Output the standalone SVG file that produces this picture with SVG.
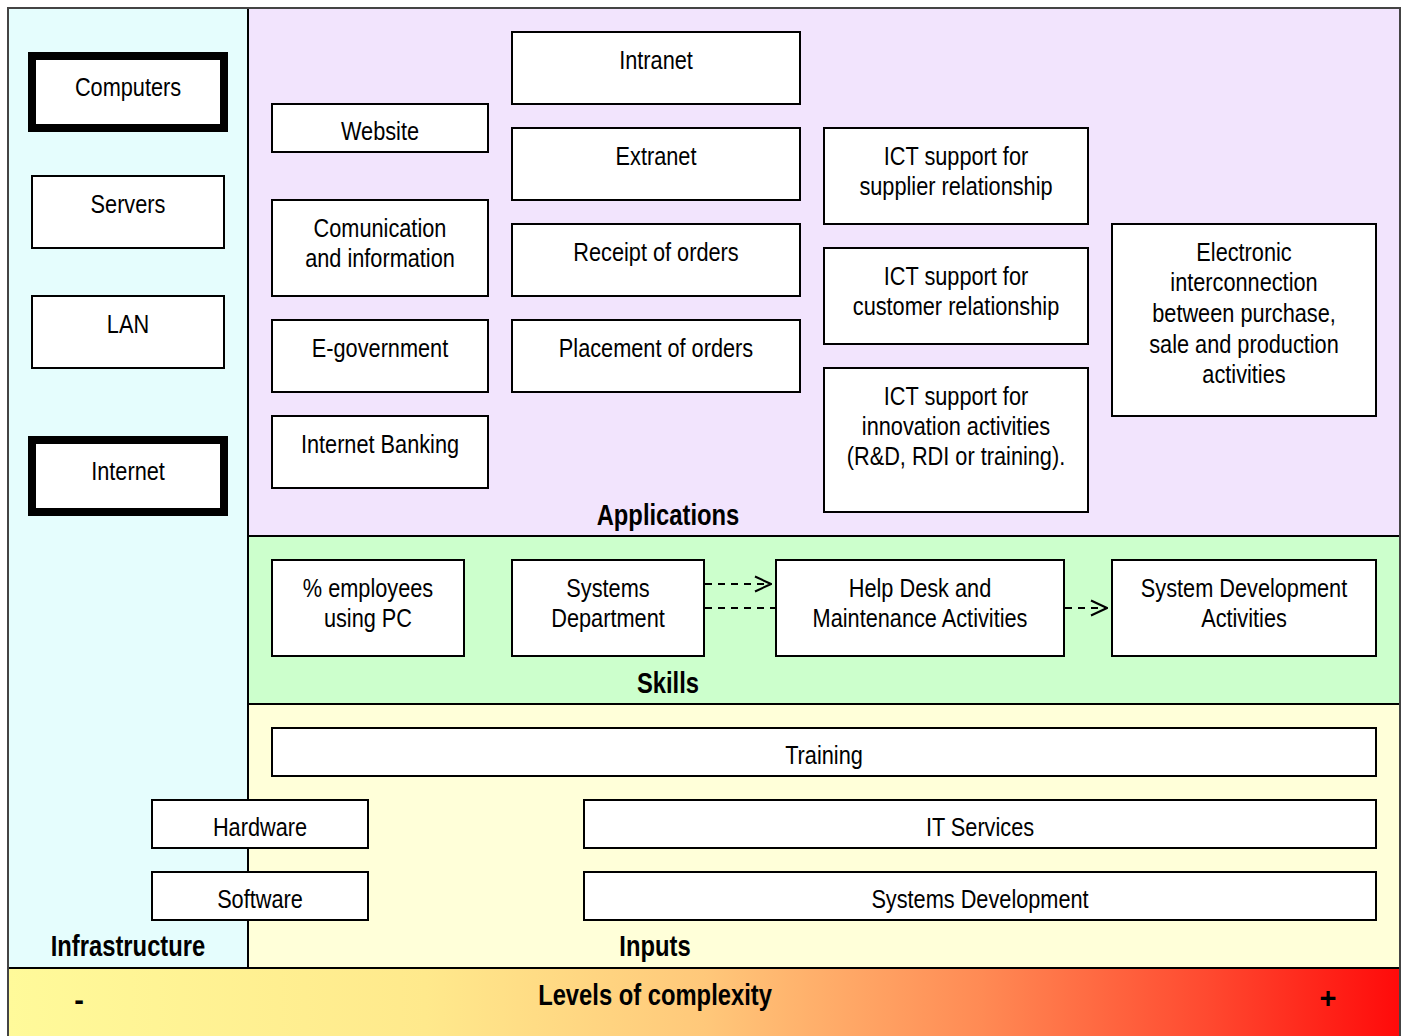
<svg xmlns="http://www.w3.org/2000/svg" width="1404" height="1036" viewBox="0 0 1404 1036">
  <style>
    .box { fill: #ffffff; stroke: #000000; stroke-width: 2; }
    .thick { fill: #ffffff; stroke: #000000; stroke-width: 8; }
    .panel { stroke: #000000; stroke-width: 2; }
    text { font-family: "Liberation Sans", Arial, sans-serif; fill: #000000;
           transform-box: fill-box; transform-origin: center; transform: scaleX(0.82); }
    .t { font-size: 26.5px; text-anchor: middle; }
    .lbl { font-size: 29px; font-weight: bold; text-anchor: middle; }
    .sign { transform: none; }
    .dash { fill: none; stroke: #000000; stroke-width: 2; stroke-dasharray: 7 6; }
  </style>
  <defs>
    <linearGradient id="complexity" x1="0" y1="0" x2="1" y2="0">
      <stop offset="0" stop-color="#fffa9a"/>
      <stop offset="0.3" stop-color="#ffe98c"/>
      <stop offset="0.5" stop-color="#ffc87a"/>
      <stop offset="0.7" stop-color="#ff8a54"/>
      <stop offset="0.86" stop-color="#ff4a30"/>
      <stop offset="1" stop-color="#ff0a0a"/>
    </linearGradient>
    <marker id="open" viewBox="0 0 18 18" refX="17" refY="9" markerWidth="18" markerHeight="18" markerUnits="userSpaceOnUse" orient="auto">
      <path d="M1,1.5 L17,9 L1,16.5" fill="none" stroke="#000000" stroke-width="2"/>
    </marker>
  </defs>

  <!-- background panels -->
  <g id="panels">
    <rect class="panel" x="8" y="8" width="240" height="960" fill="#e5fdfd"/>
    <rect class="panel" x="248" y="8" width="1152" height="528" fill="#f2e4fd"/>
    <rect class="panel" x="248" y="536" width="1152" height="168" fill="#ccffcc"/>
    <rect class="panel" x="248" y="704" width="1152" height="264" fill="#ffffd9"/>
    <rect class="panel" x="8" y="968" width="1392" height="70" fill="url(#complexity)"/>
    <rect x="8" y="8" width="1392" height="1030" fill="none" stroke="#444444" stroke-width="2"/>
  </g>

  <!-- panel labels -->
  <g id="labels">
    <text class="lbl" x="668" y="525">Applications</text>
    <text class="lbl" x="668" y="693">Skills</text>
    <text class="lbl" x="128" y="956">Infrastructure</text>
    <text class="lbl" x="655" y="956">Inputs</text>
    <text class="lbl" x="655" y="1005">Levels of complexity</text>
    <text class="lbl sign" x="79" y="1010">-</text>
    <text class="lbl sign" x="1328" y="1008">+</text>
  </g>

  <!-- infrastructure -->
  <g id="computers"><rect class="thick" x="32" y="56" width="192" height="72"/><text class="t" x="128" y="96">Computers</text></g>
  <g id="servers"><rect class="box" x="32" y="176" width="192" height="72"/><text class="t" x="128" y="213">Servers</text></g>
  <g id="lan"><rect class="box" x="32" y="296" width="192" height="72"/><text class="t" x="128" y="333">LAN</text></g>
  <g id="internet"><rect class="thick" x="32" y="440" width="192" height="72"/><text class="t" x="128" y="480">Internet</text></g>

  <!-- applications -->
  <g id="website"><rect class="box" x="272" y="104" width="216" height="48"/><text class="t" x="380" y="140">Website</text></g>
  <g id="comunication"><rect class="box" x="272" y="200" width="216" height="96"/><text class="t" x="380" y="237">Comunication</text><text class="t" x="380" y="267">and information</text></g>
  <g id="egovernment"><rect class="box" x="272" y="320" width="216" height="72"/><text class="t" x="380" y="357">E-government</text></g>
  <g id="banking"><rect class="box" x="272" y="416" width="216" height="72"/><text class="t" x="380" y="453">Internet Banking</text></g>

  <g id="intranet"><rect class="box" x="512" y="32" width="288" height="72"/><text class="t" x="656" y="69">Intranet</text></g>
  <g id="extranet"><rect class="box" x="512" y="128" width="288" height="72"/><text class="t" x="656" y="165">Extranet</text></g>
  <g id="receipt"><rect class="box" x="512" y="224" width="288" height="72"/><text class="t" x="656" y="261">Receipt of orders</text></g>
  <g id="placement"><rect class="box" x="512" y="320" width="288" height="72"/><text class="t" x="656" y="357">Placement of orders</text></g>

  <g id="ict-supplier"><rect class="box" x="824" y="128" width="264" height="96"/><text class="t" x="956" y="165">ICT support for</text><text class="t" x="956" y="195">supplier relationship</text></g>
  <g id="ict-customer"><rect class="box" x="824" y="248" width="264" height="96"/><text class="t" x="956" y="285">ICT support for</text><text class="t" x="956" y="315">customer relationship</text></g>
  <g id="ict-innovation"><rect class="box" x="824" y="368" width="264" height="144"/><text class="t" x="956" y="405">ICT support for</text><text class="t" x="956" y="435">innovation activities</text><text class="t" x="956" y="465">(R&amp;D, RDI or training).</text></g>

  <g id="electronic"><rect class="box" x="1112" y="224" width="264" height="192"/>
    <text class="t" x="1244" y="261">Electronic</text>
    <text class="t" x="1244" y="291">interconnection</text>
    <text class="t" x="1244" y="322">between purchase,</text>
    <text class="t" x="1244" y="353">sale and production</text>
    <text class="t" x="1244" y="383">activities</text>
  </g>

  <!-- skills -->
  <g id="employees"><rect class="box" x="272" y="560" width="192" height="96"/><text class="t" x="368" y="597">% employees</text><text class="t" x="368" y="627">using PC</text></g>
  <g id="systems-dept"><rect class="box" x="512" y="560" width="192" height="96"/><text class="t" x="608" y="597">Systems</text><text class="t" x="608" y="627">Department</text></g>
  <g id="helpdesk"><rect class="box" x="776" y="560" width="288" height="96"/><text class="t" x="920" y="597">Help Desk and</text><text class="t" x="920" y="627">Maintenance Activities</text></g>
  <g id="sysdev-act"><rect class="box" x="1112" y="560" width="264" height="96"/><text class="t" x="1244" y="597">System Development</text><text class="t" x="1244" y="627">Activities</text></g>

  <!-- inputs -->
  <g id="training"><rect class="box" x="272" y="728" width="1104" height="48"/><text class="t" x="824" y="764">Training</text></g>
  <g id="hardware"><rect class="box" x="152" y="800" width="216" height="48"/><text class="t" x="260" y="836">Hardware</text></g>
  <g id="software"><rect class="box" x="152" y="872" width="216" height="48"/><text class="t" x="260" y="908">Software</text></g>
  <g id="it-services"><rect class="box" x="584" y="800" width="792" height="48"/><text class="t" x="980" y="836">IT Services</text></g>
  <g id="systems-development"><rect class="box" x="584" y="872" width="792" height="48"/><text class="t" x="980" y="908">Systems Development</text></g>

  <!-- connectors -->
  <g id="connectors">
    <line class="dash" x1="705" y1="584" x2="771" y2="584" marker-end="url(#open)"/>
    <line class="dash" x1="705" y1="608" x2="775" y2="608"/>
    <line class="dash" x1="1065" y1="608" x2="1107" y2="608" marker-end="url(#open)"/>
  </g>
</svg>
